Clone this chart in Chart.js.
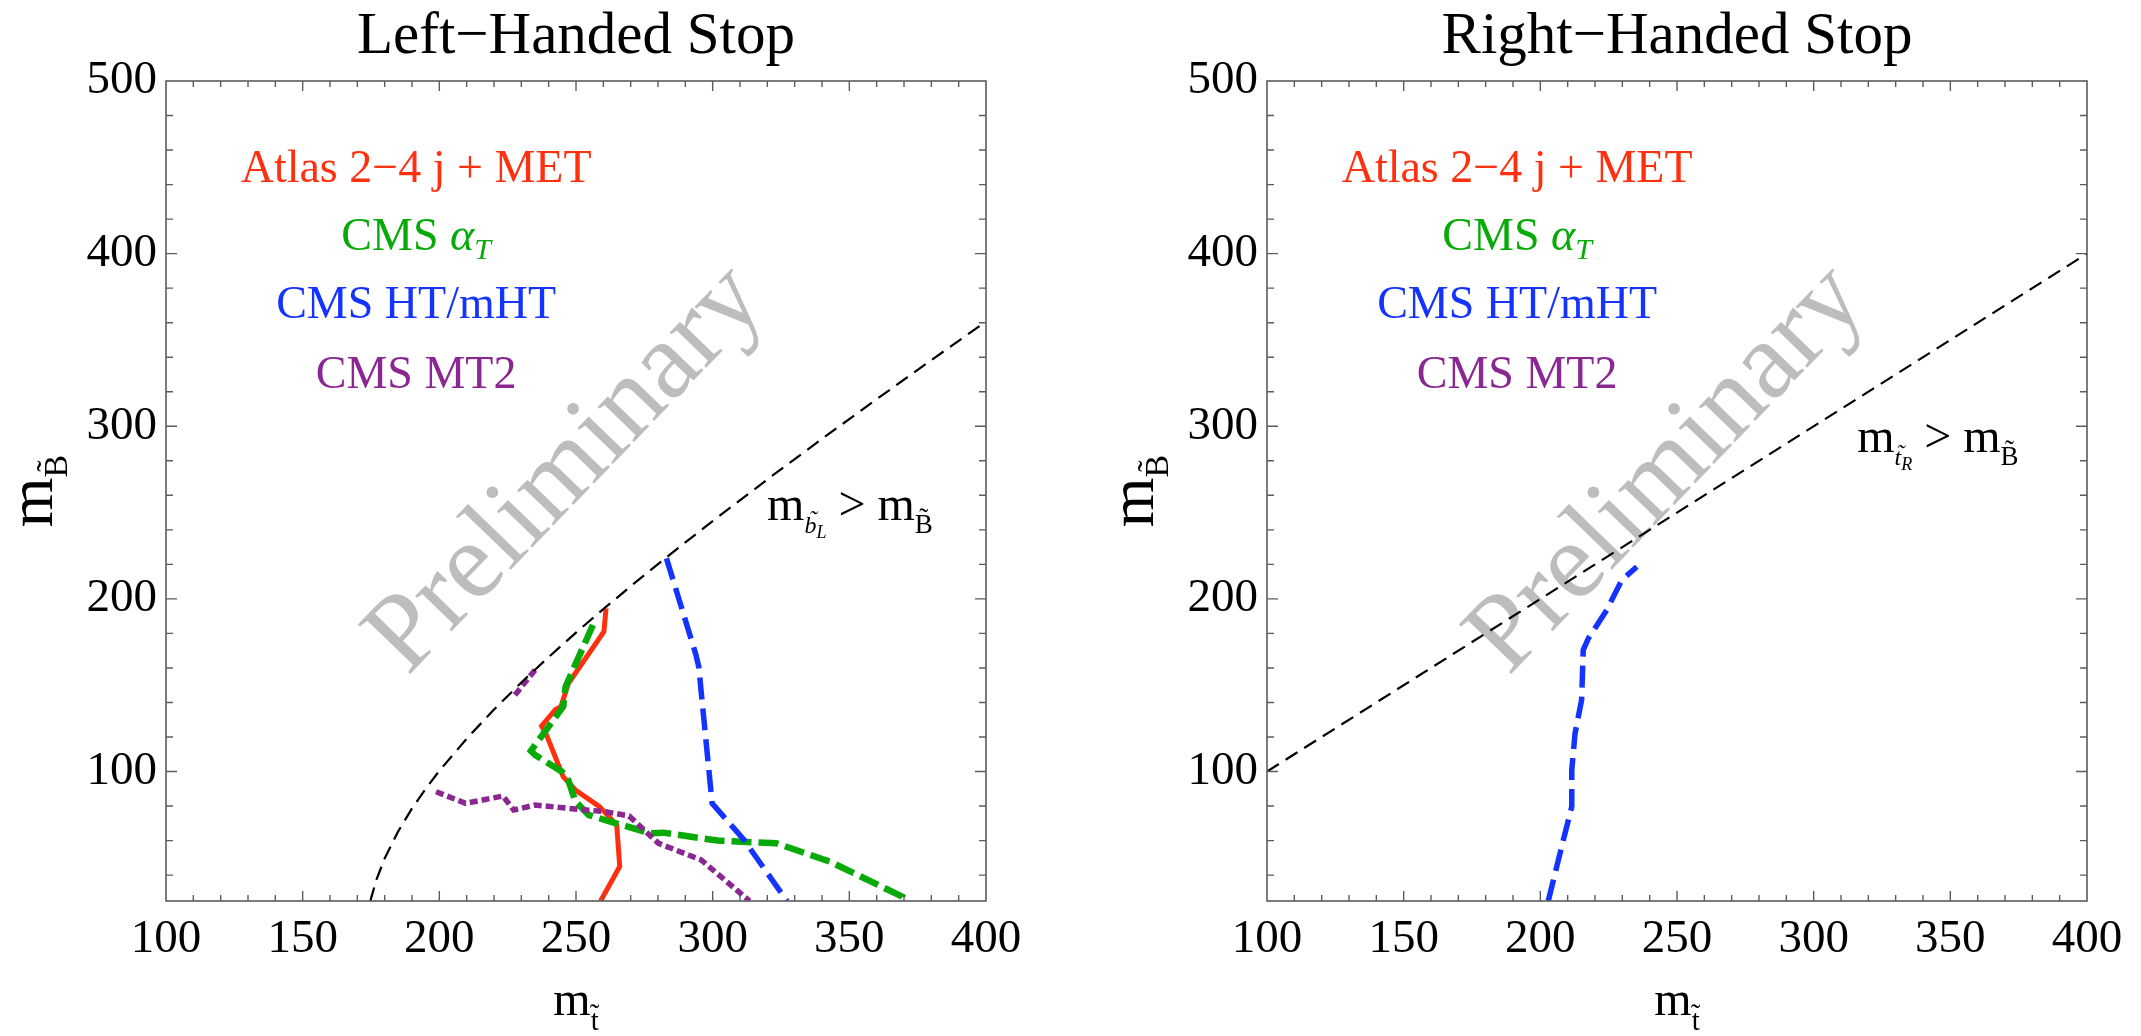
<!DOCTYPE html>
<html>
<head>
<meta charset="utf-8">
<title>Stop limits</title>
<script src="https://cdn.jsdelivr.net/npm/chart.js@4.4.1/dist/chart.umd.min.js"></script>
<style>
html, body { margin: 0; padding: 0; background: #fff; }
#wrap { position: relative; width: 2141px; height: 1036px; overflow: hidden; }
.panel { position: absolute; top: 0; width: 1040px; height: 1036px; }
</style>
</head>
<body>
<div id="wrap">
  <div class="panel" style="left:0px"><canvas id="leftChart"></canvas></div>
  <div class="panel" style="left:1101px"><canvas id="rightChart"></canvas></div>
</div>
<script>
// ---- axes ----
var xRange = [100, 400];
var yRange = [25, 500];
var xTickLabels = [100, 150, 200, 250, 300, 350, 400];
var yTickLabels = [100, 200, 300, 400, 500];

// ---- left-handed stop ----
var lhAtlasX = [261, 260.2, 247.2, 244.5, 242.5, 237.4, 239, 245.3, 249.8, 258.6, 264.9, 266, 259];
var lhAtlasY = [194.5, 181, 151, 137.6, 136, 126.4, 122, 97, 89.3, 79.7, 69, 45, 25];

var lhAlphaTX = [256.2, 246.2, 245.3, 233.5, 235, 244.9, 247.2, 249.8, 254.7, 262.5, 277.2, 282.1, 301.7, 323.3, 342.9, 369.4, 369.3];
var lhAlphaTY = [184.9, 149.2, 137.6, 112, 109.6, 99.9, 95, 82.6, 74.8, 71, 64.2, 64.6, 60, 58.4, 47.8, 27.5, 25];

var lhHTX = [283.1, 293.9, 294.9, 299.8, 311.5, 327.2];
var lhHTY = [223.5, 167.5, 160.8, 81.6, 60.3, 25];

// two pieces, split by a gap
var lhMT2X = [235, 227.2, null, 198.8, 209.6, 223.3, 227.2, 235, 250.7, 260.5, 269.4, 280.2, 295.8, 313.5];
var lhMT2Y = [158.8, 143.4, null, 88.3, 81.6, 85.8, 77.7, 80.6, 78.1, 76.8, 74.3, 58.4, 48.8, 25];

var lhEdgeX = [174.8, 175, 177, 180, 185, 190, 195, 200, 210, 220, 230, 240, 250, 260, 270, 280, 290, 300, 320, 340, 360, 380, 400];
var lhEdgeY = [25, 26.4, 37.4, 49.7, 65.5, 78.6, 90, 100.4, 119, 135.9, 151.6, 166.3, 180.5, 194.1, 207.3, 220.2, 232.7, 245.1, 269.2, 292.7, 315.7, 338.3, 360.7];

// ---- right-handed stop ----
var rhHTX = [202.9, 208.4, 211.5, 211.5, 212.7, 215.1, 215.7, 217.6, 224.3, 229.8, 235.3];
var rhHTY = [25, 60.3, 79.6, 100.9, 122.1, 141.4, 170.4, 177.2, 193.6, 210.9, 218.6];

var rhEdgeX = [100, 400];
var rhEdgeY = [100, 400];

// ---- labels ----
var legendX = 191.5;
var legendY = [441.5, 402.1, 362.7, 322.2];
var watermarkAt = [246.7, 274.7];

var FONT = '"Liberation Serif", "Times New Roman", serif';
var colAtlas = '#ff3010';
var colAlphaT = '#08aa08';
var colHT = '#1433ff';
var colMT2 = '#8b2792';

Chart.defaults.font.family = FONT;
Chart.defaults.color = '#000';

function pts(xs, ys) {
    return xs.map(function (x, i) { return {x: x, y: ys[i]}; });
}

function seg(t, size, o) {
    o = o || {};
    return {t: t, size: size, it: !!o.it, dy: o.dy || 0, tilde: !!o.tilde, raise: o.raise || 0};
}

function fontOf(s) {
    return (s.it ? 'italic ' : '') + s.size + 'px ' + FONT;
}

function drawRich(ctx, segs, x, y, align) {
    var w = 0;
    segs.forEach(function (s) {
        ctx.font = fontOf(s);
        s.w = ctx.measureText(s.t).width;
        w += s.w;
    });
    var cx = align === 'center' ? x - w / 2 : x;
    ctx.textBaseline = 'alphabetic';
    segs.forEach(function (s) {
        ctx.font = fontOf(s);
        ctx.textAlign = 'left';
        ctx.fillText(s.t, cx, y + s.dy);
        if (s.tilde) {
            ctx.textAlign = 'center';
            ctx.fillText('\u02DC', cx + s.w / 2 + (s.it ? s.size * 0.1 : 0), y + s.dy - s.size * s.raise);
        }
        cx += s.w;
    });
}

var legendSegs = [
    {color: colAtlas, segs: [seg('Atlas 2\u22124 j + MET', 46)]},
    {color: colAlphaT, segs: [seg('CMS ', 46), seg('\u03B1', 46, {it: true}), seg('T', 30, {it: true, dy: 9})]},
    {color: colHT, segs: [seg('CMS HT/mHT', 46)]},
    {color: colMT2, segs: [seg('CMS MT2', 46)]}
];

var stopLabels = {
    left: {at: [319.9, 245.7], segs: [
        seg('m', 48), seg('b', 24, {it: true, dy: 13, tilde: true, raise: 0.25}), seg('L', 18, {it: true, dy: 18}),
        seg(' > m', 48), seg('B', 27, {dy: 13, tilde: true, raise: 0.22})
    ]},
    right: {at: [315.9, 285.1], segs: [
        seg('m', 48), seg('t', 24, {it: true, dy: 13, tilde: true, raise: 0.15}), seg('R', 18, {it: true, dy: 18}),
        seg(' > m', 48), seg('B', 27, {dy: 13, tilde: true, raise: 0.22})
    ]}
};

var watermarkPlugin = {
    id: 'watermark',
    beforeDatasetsDraw: function (chart) {
        var ctx = chart.ctx, x = chart.scales.x, y = chart.scales.y;
        ctx.save();
        ctx.translate(x.getPixelForValue(watermarkAt[0]), y.getPixelForValue(watermarkAt[1]));
        ctx.rotate(-46 * Math.PI / 180);
        ctx.font = '110px ' + FONT;
        ctx.fillStyle = '#bdbdbd';
        ctx.textAlign = 'center';
        ctx.textBaseline = 'middle';
        ctx.fillText('Preliminary', 0, 0);
        ctx.restore();
    }
};

var framePlugin = {
    id: 'frame',
    afterDraw: function (chart) {
        var ctx = chart.ctx, a = chart.chartArea, x = chart.scales.x, y = chart.scales.y;
        var opts = chart.options.plugins.frame;
        ctx.save();
        ctx.strokeStyle = '#5c5c5c';
        ctx.lineWidth = 1.6;
        ctx.strokeRect(a.left, a.top, a.right - a.left, a.bottom - a.top);
        ctx.lineWidth = 1.4;
        ctx.beginPath();
        for (var v = xRange[0] + 10; v < xRange[1]; v += 10) {
            var px = x.getPixelForValue(v);
            var len = v % 50 === 0 ? 10 : 6;
            ctx.moveTo(px, a.bottom); ctx.lineTo(px, a.bottom - len);
            ctx.moveTo(px, a.top); ctx.lineTo(px, a.top + len);
        }
        for (var w = 40; w < yRange[1]; w += 20) {
            var py = y.getPixelForValue(w);
            var l2 = w % 100 === 0 ? 11 : 7;
            ctx.moveTo(a.left, py); ctx.lineTo(a.left + l2, py);
            ctx.moveTo(a.right, py); ctx.lineTo(a.right - l2, py);
        }
        ctx.stroke();

        // panel title
        ctx.fillStyle = '#000';
        drawRich(ctx, [seg(opts.title, 59)], (a.left + a.right) / 2, a.top - 28, 'center');

        // axis titles
        drawRich(ctx, [seg('m', 48), seg('t', 29, {dy: 15, tilde: true, raise: 0.2})],
                 (a.left + a.right) / 2, a.bottom + 114, 'center');
        ctx.save();
        ctx.translate(a.left - 114, (a.top + a.bottom) / 2);
        ctx.rotate(-Math.PI / 2);
        drawRich(ctx, [seg('m', 64), seg('B', 34, {dy: 15, tilde: true, raise: 0.2})], 0, 0, 'center');
        ctx.restore();

        // legend texts
        legendSegs.forEach(function (e, i) {
            ctx.fillStyle = e.color;
            drawRich(ctx, e.segs, x.getPixelForValue(legendX), y.getPixelForValue(legendY[i]), 'center');
        });

        // boundary label
        var lab = stopLabels[opts.side];
        ctx.fillStyle = '#000';
        drawRich(ctx, lab.segs, x.getPixelForValue(lab.at[0]), y.getPixelForValue(lab.at[1]), 'left');
        ctx.restore();
    }
};

function line(xs, ys, color, width, dash) {
    return {
        data: pts(xs, ys),
        showLine: true,
        borderColor: color,
        borderWidth: width,
        borderDash: dash,
        pointRadius: 0,
        fill: false,
        tension: 0,
        spanGaps: false
    };
}

function makePanel(id, title, side, datasets) {
    return new Chart(document.getElementById(id), {
        type: 'scatter',
        data: {datasets: datasets},
        options: {
            responsive: true,
            maintainAspectRatio: false,
            animation: false,
            layout: {padding: {top: 81, right: 54, bottom: 0, left: 0}},
            plugins: {
                legend: {display: false},
                tooltip: {enabled: false},
                title: {display: false},
                frame: {side: side, title: title}
            },
            scales: {
                x: {
                    type: 'linear',
                    min: xRange[0], max: xRange[1],
                    grid: {display: false, drawTicks: false},
                    border: {display: false},
                    afterBuildTicks: function (s) { s.ticks = xTickLabels.map(function (v) { return {value: v}; }); },
                    afterFit: function (s) { s.height = 135; },
                    ticks: {font: {size: 47}, color: '#000', padding: 10, maxRotation: 0}
                },
                y: {
                    type: 'linear',
                    min: yRange[0], max: yRange[1],
                    grid: {display: false, drawTicks: false},
                    border: {display: false},
                    afterBuildTicks: function (s) { s.ticks = yTickLabels.map(function (v) { return {value: v}; }); },
                    afterFit: function (s) { s.width = 166; },
                    ticks: {font: {size: 47}, color: '#000', padding: 9}
                }
            }
        },
        plugins: [watermarkPlugin, framePlugin]
    });
}

makePanel('leftChart', 'Left\u2212Handed Stop', 'left', [
    line(lhEdgeX, lhEdgeY, '#000', 2.2, [14, 8]),
    line(lhMT2X, lhMT2Y, colMT2, 5.5, [8, 4]),
    line(lhHTX, lhHTY, colHT, 5.5, [22, 9]),
    line(lhAlphaTX, lhAlphaTY, colAlphaT, 6.5, [20, 7]),
    line(lhAtlasX, lhAtlasY, colAtlas, 5, [])
]);

makePanel('rightChart', 'Right\u2212Handed Stop', 'right', [
    line(rhEdgeX, rhEdgeY, '#000', 2.2, [14, 8]),
    line(rhHTX, rhHTY, colHT, 5.5, [22, 9])
]);
</script>
</body>
</html>
